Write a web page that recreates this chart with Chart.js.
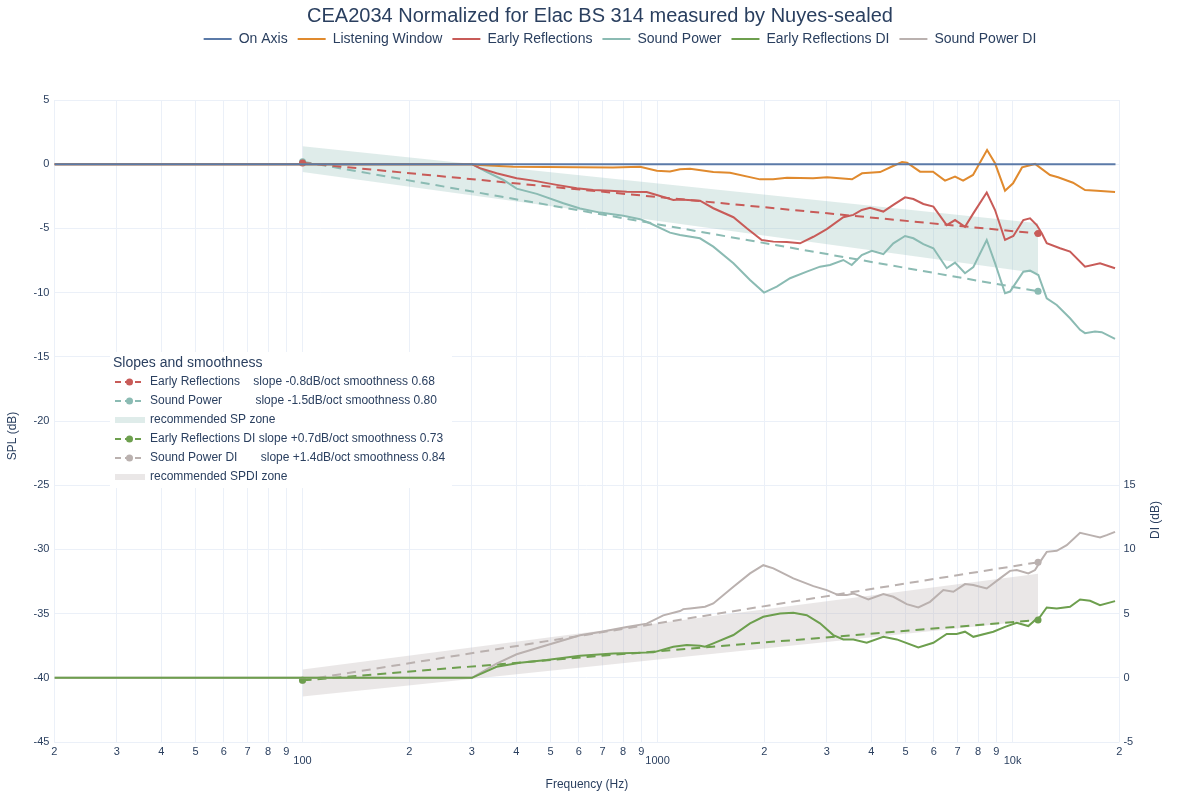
<!DOCTYPE html>
<html>
<head>
<meta charset="utf-8">
<script src="https://cdn.jsdelivr.net/npm/chart.js@4"></script>
<style>
  body { margin: 0; background: #fff; }
</style>
</head>
<body>
<canvas id="myChart" width="1200" height="800"></canvas>
<script>
// frequency axis ticks (Hz)
const freqTicks = [20, 30, 40, 50, 60, 70, 80, 90,
  100, 200, 300, 400, 500, 600, 700, 800, 900,
  1000, 2000, 3000, 4000, 5000, 6000, 7000, 8000, 9000,
  10000, 20000]
const freqTickLabels = ['2', '3', '4', '5', '6', '7', '8', '9',
  ['', '100'], '2', '3', '4', '5', '6', '7', '8', '9',
  ['', '1000'], '2', '3', '4', '5', '6', '7', '8', '9',
  ['', '10k'], '2']

// On Axis
const onFreq = [20, 19500]
const onSpl = [0, 0]

// Listening Window
const lwFreq = [20, 300, 316, 392, 749, 893, 995, 1084, 1157, 1235, 1436, 1600, 1944, 2116, 2316, 2742, 3003,
  3531, 3768, 4236, 4607, 4884, 5045, 5489, 5970, 6454, 6887, 7256, 7739, 8477, 8927, 9525, 10033,
  10636, 10985, 11571, 12754, 13435, 14805, 16004, 17298, 19443]
const lwSpl = [0, 0, -0.06, -0.2, -0.25, -0.2, -0.51, -0.56, -0.40, -0.35, -0.61, -0.66, -1.18, -1.18, -1.05, -1.10, -1.02,
  -1.18, -0.71, -0.61, -0.14, 0.17, 0.12, -0.58, -0.58, -1.28, -0.97, -1.28, -0.84, 1.11, 0.07, -2.06, -1.49,
  -0.25, -0.14, 0.02, -0.84, -1.02, -1.44, -2.01, -2.06, -2.16]

// Early Reflections
const erFreq = [20, 300, 316, 352, 401, 447, 520, 592, 659, 735, 819, 932, 995, 1108, 1157, 1317, 1436, 1636,
  1784, 1966, 2120, 2312, 2520, 2748, 2997, 3337, 3561, 3761, 3968, 4326, 4616, 4980, 5256, 5608, 5984,
  6525, 6887, 7347, 7754, 8459, 8927, 9525, 10053, 10725, 11202, 11701, 12086, 12484, 13610, 14521,
  16004, 17640, 19443]
const erSpl = [0, 0, -0.31, -0.70, -1.09, -1.28, -1.61, -1.87, -2.0, -2.07, -2.15, -2.17, -2.40, -2.79, -2.74, -2.84, -3.43, -4.13,
  -4.99, -5.90, -6.03, -6.06, -6.16, -5.65, -5.06, -4.13, -3.95, -3.56, -3.40, -3.69, -3.17, -2.58, -2.71, -3.10, -3.30,
  -4.74, -4.35, -4.87, -3.83, -2.21, -3.57, -5.90, -5.59, -4.35, -4.22, -4.74, -5.38, -6.16, -6.55, -6.81,
  -7.98, -7.71, -8.10]

// Sound Power
const spFreq = [20, 300, 330, 368, 401, 457, 543, 605, 689, 801, 893, 953, 1084, 1157, 1317, 1436, 1636, 1822,
  1995, 2167, 2362, 2633, 2869, 3061, 3337, 3524, 3761, 4013, 4326, 4616, 4980, 5256, 5608, 5984, 6525,
  6887, 7347, 7754, 8459, 8927, 9525, 9840, 10725, 11202, 11822, 12484, 13321, 14521, 15497, 16004,
  17076, 17834, 19443]
const spSpl = [0, 0, -0.59, -1.23, -1.90, -2.31, -3.04, -3.45, -3.77, -4.02, -4.28, -4.60, -5.33, -5.51, -5.77, -6.42, -7.71, -9.02,
  -10.0, -9.53, -8.88, -8.37, -7.98, -7.85, -7.46, -7.85, -7.07, -6.74, -7.00, -6.16, -5.59, -5.77, -6.23, -6.55, -8.10,
  -7.66, -8.49, -8.02, -5.90, -7.71, -10.05, -9.92, -8.37, -8.29, -8.63, -10.44, -10.96, -12.0, -12.9, -13.16,
  -13.03, -13.08, -13.6]

// Early Reflections DI
const erdiFreq = [20, 300, 352, 410, 487, 605, 751, 973, 1108, 1209, 1317, 1361, 1436, 1636, 1822, 1986, 2214,
  2413, 2633, 2869, 3127, 3337, 3561, 3884, 4326, 4719, 5428, 5984, 6525, 6963, 7347, 7754, 8829, 9525,
  10276, 11079, 11571, 11954, 12484, 13321, 14521, 15497, 16534, 17640, 19443]
const erdiVal = [0, 0, 0.86, 1.17, 1.38, 1.72, 1.90, 1.98, 2.42, 2.55, 2.50, 2.42, 2.68, 3.33, 4.24, 4.75, 5.01,
  5.06, 4.88, 4.24, 3.33, 2.99, 2.99, 2.73, 3.19, 2.99, 2.37, 2.73, 3.41, 3.41, 3.59, 3.19, 3.59, 3.97,
  4.29, 4.03, 4.49, 4.75, 5.48, 5.40, 5.53, 6.10, 6.00, 5.66, 5.97]

// Sound Power DI
const spdiFreq = [20, 300, 352, 401, 487, 605, 689, 819, 932, 1038, 1157, 1182, 1235, 1361, 1436, 1636, 1822,
  1986, 2120, 2413, 2748, 2997, 3231, 3412, 3561, 3925, 4326, 4616, 5035, 5428, 5855, 6384, 6812, 7347,
  7754, 8459, 9221, 9840, 10276, 11079, 11571, 11954, 12484, 13321, 14213, 15497, 16534, 17640, 18423, 19443]
const spdiVal = [0, 0, 1.10, 1.83, 2.53, 3.31, 3.57, 3.96, 4.22, 4.86, 5.2, 5.35, 5.40, 5.53, 5.79, 7.09, 8.13,
  8.77, 8.52, 7.74, 7.14, 6.83, 6.44, 6.44, 6.57, 6.10, 6.52, 6.31, 5.74, 5.48, 5.92, 6.83, 6.70, 7.30,
  7.22, 6.96, 7.74, 8.33, 8.39, 8.13, 8.39, 9.03, 9.81, 9.89, 10.33, 11.29, 11.11, 10.93, 11.11, 11.37]

// slopes and recommended zones (from 100 Hz to ~11.8 kHz)
const slopeFreq = [100, 11800]
const erSlope = [0.1, -5.4]
const spSlope = [0.2, -9.9]
const spZoneHigh = [1.4, -4.6]
const spZoneLow = [-0.6, -8.5]
const erdiSlope = [-0.2, 4.5]
const spdiSlope = [-0.2, 9.0]
const spdiZoneHigh = [0.65, 8.1]
const spdiZoneLow = [-1.45, 4.5]

const slopeLabels = [
  'Early Reflections    slope -0.8dB/oct smoothness 0.68',
  'Sound Power          slope -1.5dB/oct smoothness 0.80',
  'recommended SP zone',
  'Early Reflections DI slope +0.7dB/oct smoothness 0.73',
  'Sound Power DI       slope +1.4dB/oct smoothness 0.84',
  'recommended SPDI zone'
]

const cOn = '#5b7aa8'
const cLw = '#e08a2e'
const cEr = '#c85b58'
const cSp = '#8bbbb3'
const cErdi = '#6d9f4e'
const cSpdi = '#bab1af'
const cSpZone = 'rgba(139,187,179,0.28)'
const cSpdiZone = 'rgba(186,177,175,0.30)'
const textColor = '#2a3f5f'
const fontFam = '"Liberation Sans", Arial, sans-serif'

function pairs(fs, vs) {
  return fs.map((f, i) => ({x: f, y: vs[i]}))
}

function curve(label, fs, vs, color, axis) {
  return {
    label: label, data: pairs(fs, vs), yAxisID: axis,
    borderColor: color, backgroundColor: color, borderWidth: 2,
    pointRadius: 0, tension: 0, fill: false
  }
}

function slope(label, vs, color, axis) {
  return {
    label: label, data: pairs(slopeFreq, vs), yAxisID: axis, slope: true,
    borderColor: color, backgroundColor: color, borderWidth: 2, borderDash: [9, 6],
    pointRadius: 3.5, pointBorderWidth: 0, tension: 0, fill: false
  }
}

function zone(label, vs, color, axis, fillNext) {
  return {
    label: label, data: pairs(slopeFreq, vs), yAxisID: axis, zone: true,
    borderWidth: 0, borderColor: 'rgba(0,0,0,0)', backgroundColor: color,
    pointRadius: 0, tension: 0, fill: fillNext ? '+1' : false
  }
}

Chart.defaults.font.family = fontFam
Chart.defaults.color = textColor

// keeps the space between the top legend and the plot like the original
const legendGap = {
  id: 'legendGap',
  beforeLayout(chart) {
    const lg = chart.legend
    if (lg && !lg._gapDone) {
      const fit = lg.fit
      lg.fit = function() { fit.call(this); this.height = 72 }
      const draw = lg.draw
      lg.draw = function() {
        const c = this.ctx
        c.save(); c.translate(20, -6); draw.call(this); c.restore()
      }
      lg._gapDone = true
    }
  }
}

// axis titles and the "Slopes and smoothness" box
const extras = {
  id: 'extras',
  afterDraw(chart) {
    const ctx = chart.ctx
    const area = chart.chartArea
    ctx.save()
    ctx.fillStyle = textColor
    ctx.font = '12px ' + fontFam
    ctx.textAlign = 'center'
    ctx.textBaseline = 'middle'
    ctx.fillText('Frequency (Hz)', (area.left + area.right) / 2, 785)
    ctx.save(); ctx.translate(13, 436); ctx.rotate(-Math.PI / 2); ctx.fillText('SPL (dB)', 0, 0); ctx.restore()
    ctx.save(); ctx.translate(1156, 520); ctx.rotate(-Math.PI / 2); ctx.fillText('DI (dB)', 0, 0); ctx.restore()

    // box
    ctx.fillStyle = '#ffffff'
    ctx.fillRect(110, 352, 342, 136)
    ctx.fillStyle = textColor
    ctx.textAlign = 'left'
    ctx.font = '14px ' + fontFam
    ctx.fillText('Slopes and smoothness', 113, 363)
    ctx.font = '12px ' + fontFam
    const extra = chart.data.datasets.filter(d => d.slope || (d.zone && d.fill))
    extra.forEach((d, i) => {
      const y = 382 + i * 19
      if (d.zone) {
        ctx.fillStyle = d.backgroundColor
        ctx.fillRect(115, y - 3, 30, 6)
      } else {
        ctx.strokeStyle = d.borderColor
        ctx.lineWidth = 2
        ctx.setLineDash([6, 4])
        ctx.beginPath(); ctx.moveTo(115, y); ctx.lineTo(144, y); ctx.stroke()
        ctx.setLineDash([])
        ctx.fillStyle = d.borderColor
        ctx.beginPath(); ctx.arc(129.5, y, 3.5, 0, Math.PI * 2); ctx.fill()
      }
      ctx.fillStyle = textColor
      ctx.fillText(d.label, 150, y)
    })
    ctx.restore()
  }
}

var ctx = document.getElementById('myChart').getContext('2d')
var chart = new Chart(ctx, {
  type: 'line',
  data: {
    datasets: [
      curve('On Axis', onFreq, onSpl, cOn, 'y'),
      curve('Listening Window', lwFreq, lwSpl, cLw, 'y'),
      curve('Early Reflections', erFreq, erSpl, cEr, 'y'),
      curve('Sound Power', spFreq, spSpl, cSp, 'y'),
      curve('Early Reflections DI', erdiFreq, erdiVal, cErdi, 'y2'),
      curve('Sound Power DI', spdiFreq, spdiVal, cSpdi, 'y2'),
      slope(slopeLabels[0], erSlope, cEr, 'y'),
      slope(slopeLabels[1], spSlope, cSp, 'y'),
      zone(slopeLabels[2], spZoneHigh, cSpZone, 'y', true),
      zone('sp zone low', spZoneLow, cSpZone, 'y', false),
      slope(slopeLabels[3], erdiSlope, cErdi, 'y2'),
      slope(slopeLabels[4], spdiSlope, cSpdi, 'y2'),
      zone(slopeLabels[5], spdiZoneHigh, cSpdiZone, 'y2', true),
      zone('spdi zone low', spdiZoneLow, cSpdiZone, 'y2', false)
    ]
  },
  options: {
    responsive: false,
    animation: false,
    events: [],
    layout: { padding: 0 },
    plugins: {
      title: {
        display: true,
        text: 'CEA2034 Normalized for Elac BS 314 measured by Nuyes-sealed',
        font: { size: 20, weight: 'normal' },
        color: textColor,
        padding: { top: 4, bottom: 0 }
      },
      legend: {
        display: true,
        labels: {
          usePointStyle: true,
          pointStyle: 'line',
          pointStyleWidth: 28,
          padding: 10,
          font: { size: 14 },
          color: textColor,
          filter: (item) => item.datasetIndex < 6
        }
      },
      tooltip: { enabled: false }
    },
    scales: {
      x: {
        type: 'logarithmic',
        min: 20,
        max: 20000,
        afterBuildTicks: (scale) => { scale.ticks = freqTicks.map(v => ({value: v})) },
        afterFit: (scale) => { scale.height = 58 },
        grid: { color: '#ebf0f8', drawTicks: false },
        border: { display: false },
        ticks: {
          autoSkip: false, maxRotation: 0, padding: 5.5,
          font: { size: 11, lineHeight: '9px' },
          callback: (v, i) => freqTickLabels[i]
        }
      },
      y: {
        position: 'left',
        min: -45, max: 5,
        afterFit: (scale) => { scale.width = 54.4 },
        grid: { color: '#ebf0f8', drawTicks: false },
        border: { display: false },
        ticks: { stepSize: 5, padding: 5, font: { size: 11 } }
      },
      y2: {
        position: 'right',
        min: -5, max: 45,
        afterFit: (scale) => { scale.width = 80.6 },
        grid: { display: false, drawTicks: false },
        border: { display: false },
        ticks: {
          stepSize: 5, padding: 4, font: { size: 11 },
          callback: (v) => (v <= 15 ? String(v) : '')
        }
      }
    }
  },
  plugins: [legendGap, extras]
})
</script>
</body>
</html>
